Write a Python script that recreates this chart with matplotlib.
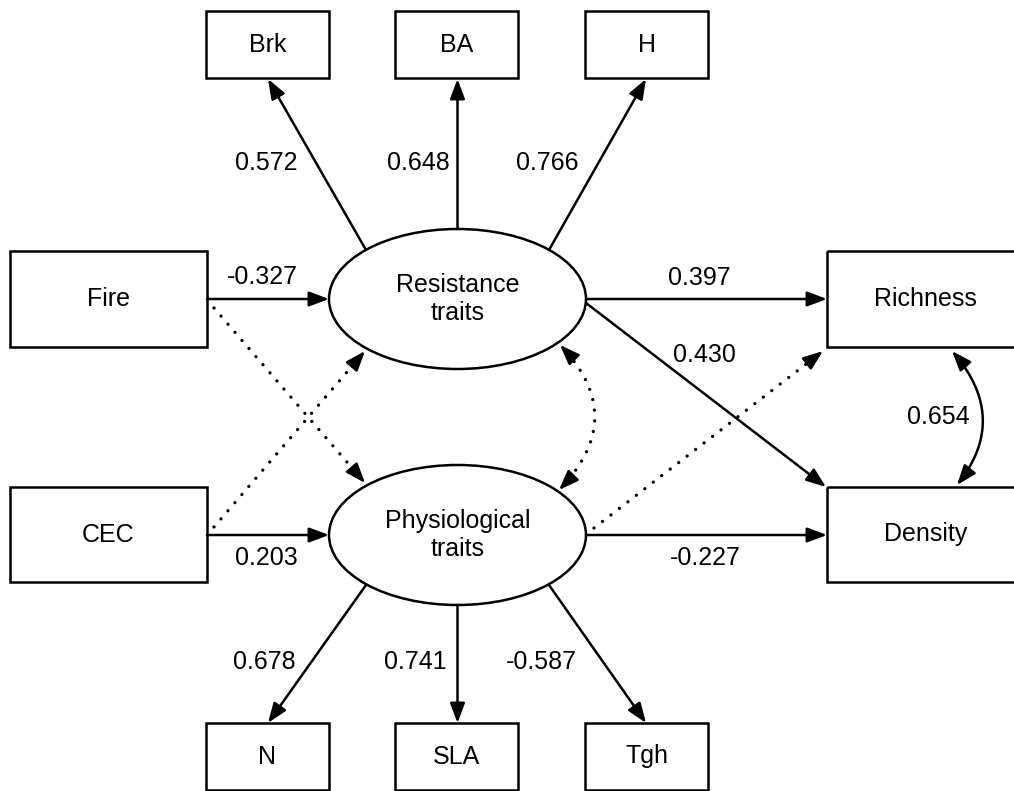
import numpy as np
import matplotlib
matplotlib.use('Agg')
import matplotlib.pyplot as plt
from matplotlib.patches import Rectangle, Ellipse, FancyArrowPatch

plt.rcParams['font.family'] = ['Liberation Sans', 'DejaVu Sans']

# measured variables of the two latent traits, with loadings
resistance_items = ['Brk', 'BA', 'H']
resistance_loadings = [0.572, 0.648, 0.766]
physio_items = ['N', 'SLA', 'Tgh']
physio_loadings = [0.678, 0.741, -0.587]

# predictors and responses
predictors = ['Fire', 'CEC']
responses = ['Richness', 'Density']
latents = ['Resistance\ntraits', 'Physiological\ntraits']
fire_to_res = -0.327
cec_to_phys = 0.203
res_to_resp = [0.397, 0.430]
phys_to_density = -0.227
resp_cov = 0.654

FS = 18
LW = 1.8
HEAD = '-|>,head_length=12,head_width=4.5'

fig = plt.figure(figsize=(10.14, 7.91), dpi=100)
ax = fig.add_axes([0, 0, 1, 1])
ax.set_xlim(0, 1014)
ax.set_ylim(791, 0)
ax.axis('off')


def box(x0, y0, w, h, text):
    ax.add_patch(Rectangle((x0, y0), w, h, fill=False, lw=LW, ec='black'))
    ax.text(x0 + w / 2, y0 + h / 2, text, ha='center', va='center', fontsize=FS)


def arrow(p0, p1):
    ax.add_patch(FancyArrowPatch(p0, p1, arrowstyle=HEAD, mutation_scale=1,
                                 shrinkA=0, shrinkB=0, lw=LW, color='black'))


def head(tip, d):
    # only the arrow head, pointing along unit direction d
    d = np.asarray(d) / np.hypot(*d)
    start = np.asarray(tip) - 18 * d
    arrow(tuple(start), tip)


def dotted(xs, ys):
    ax.plot(xs, ys, color='black', lw=2.4, ls=(0, (0.01, 3.2)),
            dash_capstyle='round')


def dotted_arrow(p0, p1):
    p0 = np.asarray(p0, float)
    p1 = np.asarray(p1, float)
    d = p1 - p0
    u = d / np.hypot(*d)
    end = p1 - 17 * u
    dotted([p0[0], end[0]], [p0[1], end[1]])
    head(tuple(p1), u)


def curved(p0, p1, ctrl, dots=False):
    t = np.linspace(0, 1, 80)[:, None]
    p0, p1, ctrl = map(lambda a: np.asarray(a, float), (p0, p1, ctrl))
    pts = (1 - t) ** 2 * p0 + 2 * (1 - t) * t * ctrl + t ** 2 * p1
    inner = pts[9:-9]
    if dots:
        dotted(inner[:, 0], inner[:, 1])
    else:
        ax.plot(inner[:, 0], inner[:, 1], color='black', lw=LW)
    head(tuple(p0), p0 - ctrl)
    head(tuple(p1), p1 - ctrl)


# nodes
box_w, box_h = 123, 67
item_x = [206, 395, 585]
for x, name in zip(item_x, resistance_items):
    box(x, 11, box_w, box_h, name)
for x, name in zip(item_x, physio_items):
    box(x, 723, box_w, box_h, name)

box(10, 251, 197, 96, predictors[0])
box(10, 487, 197, 95, predictors[1])
box(827, 251, 197, 96, responses[0])
box(827, 487, 197, 95, responses[1])

cx = 457.5
res_y, phys_y = 299, 535
for cy, lab in zip([res_y, phys_y], latents):
    ax.add_patch(Ellipse((cx, cy), 257, 140, fill=False, lw=LW, ec='black'))
    ax.text(cx, cy, lab, ha='center', va='center', fontsize=FS, linespacing=1.2)

# loadings
arrow((366, 250), (268, 79))
arrow((cx, 229), (cx, 79))
arrow((549, 250), (646, 79))
arrow((366, 585), (268, 723))
arrow((cx, 605), (cx, 723))
arrow((549, 585), (646, 723))

for x, v in zip([266, 418, 547], resistance_loadings):
    ax.text(x, 163, f'{v:.3f}', ha='center', va='center', fontsize=FS)
for x, v in zip([264, 415, 541], physio_loadings):
    ax.text(x, 662, f'{v:.3f}', ha='center', va='center', fontsize=FS)

# structural paths
arrow((207, res_y), (329, res_y))
arrow((207, phys_y), (329, phys_y))
arrow((586, res_y), (827, res_y))
arrow((586, 303), (826, 487))
arrow((586, phys_y), (827, phys_y))

dotted_arrow((214, 308), (365, 483))
dotted_arrow((214, 527), (365, 351))
dotted_arrow((594, 528), (823, 351))

curved((560, 345), (559, 490), (630, 417), dots=True)
curved((952, 351), (957, 485), (1011, 418))

ax.text(262, 277, f'{fire_to_res:.3f}', ha='center', va='center', fontsize=FS)
ax.text(266, 558, f'{cec_to_phys:.3f}', ha='center', va='center', fontsize=FS)
ax.text(699, 278, f'{res_to_resp[0]:.3f}', ha='center', va='center', fontsize=FS)
ax.text(704, 355, f'{res_to_resp[1]:.3f}', ha='center', va='center', fontsize=FS)
ax.text(705, 558, f'{phys_to_density:.3f}', ha='center', va='center', fontsize=FS)
ax.text(938, 417, f'{resp_cov:.3f}', ha='center', va='center', fontsize=FS)

fig.savefig('out.png', dpi=100)
